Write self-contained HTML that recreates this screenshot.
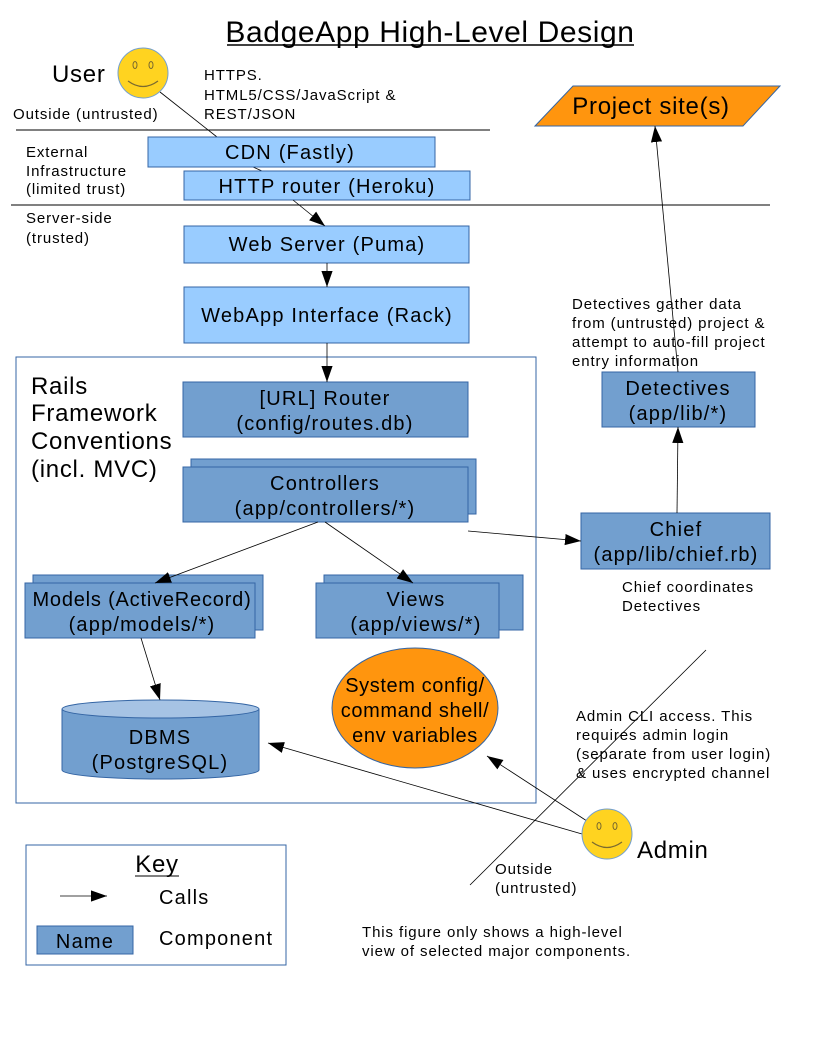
<!DOCTYPE html>
<html><head><meta charset="utf-8"><style>body{margin:0;background:#fff}svg{display:block}text{font-family:"Liberation Sans",sans-serif;fill:#000;letter-spacing:0.06em}.big{letter-spacing:0.03em}</style></head><body>
<svg width="816" height="1056" viewBox="0 0 816 1056" xmlns="http://www.w3.org/2000/svg">
<defs><marker id="b" viewBox="0 0 10 10" refX="10" refY="5" markerWidth="16" markerHeight="16" markerUnits="userSpaceOnUse" orient="auto"><path d="M0,1.5 L10,5 L0,8.5z" fill="#000"/></marker></defs>
<text x="430" y="42" font-size="30" text-anchor="middle" style="letter-spacing:0.02em">BadgeApp High-Level Design</text>
<line x1="227" y1="45" x2="634" y2="45" stroke="#000" stroke-width="1.5"/>
<text x="52" y="82" font-size="24" class="big">User</text>
<g><circle cx="143" cy="73" r="25" fill="#ffd320" stroke="#729fcf"/><ellipse cx="135" cy="65" rx="2" ry="3.5" fill="none" stroke="#7a6a30"/><ellipse cx="151" cy="65" rx="2" ry="3.5" fill="none" stroke="#7a6a30"/><path d="M128,81 Q143,92 158,81" fill="none" stroke="#7a6a30" stroke-width="1.2"/></g>
<g font-size="15"><text x="204" y="80">HTTPS.</text><text x="204" y="100">HTML5/CSS/JavaScript &amp;</text><text x="204" y="119">REST/JSON</text>
<text x="13" y="119">Outside (untrusted)</text>
<text x="26" y="157">External</text><text x="26" y="176">Infrastructure</text><text x="26" y="194">(limited trust)</text>
<text x="26" y="223">Server-side</text><text x="26" y="243">(trusted)</text></g>
<line x1="16" y1="130" x2="490" y2="130" stroke="#000"/>
<line x1="11" y1="205" x2="770" y2="205" stroke="#000"/>
<line x1="160" y1="92" x2="217" y2="137" stroke="#000" stroke-width="0.8"/>
<line x1="253" y1="167" x2="262" y2="171" stroke="#000" stroke-width="0.8"/>
<rect x="148" y="137" width="287" height="30" fill="#99ccff" stroke="#3465a4"/>
<text x="290" y="159" font-size="20" text-anchor="middle">CDN (Fastly)</text>
<rect x="184" y="171" width="286" height="29" fill="#99ccff" stroke="#3465a4"/>
<text x="327" y="193" font-size="20" text-anchor="middle">HTTP router (Heroku)</text>
<rect x="184" y="226" width="285" height="37" fill="#99ccff" stroke="#3465a4"/>
<text x="327" y="251" font-size="20" text-anchor="middle">Web Server (Puma)</text>
<rect x="184" y="287" width="285" height="56" fill="#99ccff" stroke="#3465a4"/>
<text x="327" y="322" font-size="20" text-anchor="middle">WebApp Interface (Rack)</text>
<rect x="16" y="357" width="520" height="446" fill="none" stroke="#3465a4"/>
<g font-size="24" class="big"><text x="31" y="394" class="big">Rails</text><text x="31" y="421" class="big">Framework</text><text x="31" y="449" class="big">Conventions</text><text x="31" y="477" class="big">(incl. MVC)</text></g>
<g fill="#729fcf" stroke="#3465a4">
<rect x="183" y="382" width="285" height="55"/>
<rect x="191" y="459" width="285" height="55"/><rect x="183" y="467" width="285" height="55"/>
<rect x="33" y="575" width="230" height="55"/><rect x="25" y="583" width="230" height="55"/>
<rect x="324" y="575" width="199" height="55"/><rect x="316" y="583" width="183" height="55"/>
<rect x="581" y="513" width="189" height="56"/>
<rect x="602" y="372" width="153" height="55"/>
</g>
<g font-size="20" text-anchor="middle">
<text x="325" y="405">[URL] Router</text><text x="325" y="430">(config/routes.db)</text>
<text x="325" y="490">Controllers</text><text x="325" y="515">(app/controllers/*)</text>
<text x="142" y="606" style="letter-spacing:0.04em">Models (ActiveRecord)</text><text x="142" y="631">(app/models/*)</text>
<text x="416" y="606">Views</text><text x="416" y="631">(app/views/*)</text>
<text x="676" y="536">Chief</text><text x="676" y="561">(app/lib/chief.rb)</text>
<text x="678" y="395">Detectives</text><text x="678" y="420">(app/lib/*)</text>
</g>
<path d="M62,709 L62,770 A98.5,9 0 0 0 259,770 L259,709" fill="#729fcf" stroke="#3465a4"/>
<ellipse cx="160.5" cy="709" rx="98.5" ry="9" fill="#a6c3e4" stroke="#3465a4"/>
<text x="160" y="744" font-size="20" text-anchor="middle">DBMS</text><text x="160" y="769" font-size="20" text-anchor="middle">(PostgreSQL)</text>
<ellipse cx="415" cy="708" rx="83" ry="60" fill="#ff950e" stroke="#3465a4"/>
<g font-size="20" text-anchor="middle" style="letter-spacing:0.03em"><text x="415" y="692" style="letter-spacing:0.03em">System config/</text><text x="415" y="717" style="letter-spacing:0.03em">command shell/</text><text x="415" y="742" style="letter-spacing:0.03em">env variables</text></g>
<polygon points="535,126 573,86 780,86 743,126" fill="#ff950e" stroke="#3465a4"/>
<text x="651" y="114" font-size="24" text-anchor="middle" class="big">Project site(s)</text>
<g font-size="15"><text x="572" y="309">Detectives gather data</text><text x="572" y="328">from (untrusted) project &amp;</text><text x="572" y="347">attempt to auto-fill project</text><text x="572" y="366">entry information</text>
<text x="622" y="592">Chief coordinates</text><text x="622" y="611">Detectives</text>
<text x="576" y="721">Admin CLI access. This</text><text x="576" y="740">requires admin login</text><text x="576" y="759">(separate from user login)</text><text x="576" y="778">&amp; uses encrypted channel</text>
<text x="495" y="874">Outside</text><text x="495" y="893">(untrusted)</text>
<text x="362" y="937">This figure only shows a high-level</text><text x="362" y="956">view of selected major components.</text></g>
<g stroke="#000" stroke-width="0.8" fill="none" marker-end="url(#b)">
<line x1="293" y1="200" x2="325" y2="226"/>
<line x1="327" y1="263" x2="327" y2="287"/>
<line x1="327" y1="343" x2="327" y2="382"/>
<line x1="318" y1="522" x2="155" y2="583"/>
<line x1="325" y1="522" x2="413" y2="583"/>
<line x1="468" y1="531" x2="581" y2="541"/>
<line x1="677" y1="513" x2="678" y2="427"/>
<line x1="678" y1="372" x2="655" y2="126"/>
<line x1="141" y1="638" x2="160" y2="700"/>
<line x1="582" y1="834" x2="268" y2="743"/>
<line x1="590" y1="823" x2="487" y2="756"/>
</g>
<line x1="706" y1="650" x2="470" y2="885" stroke="#000" stroke-width="0.8"/>
<g><circle cx="607" cy="834" r="25" fill="#ffd320" stroke="#729fcf"/><ellipse cx="599" cy="826" rx="2" ry="3.5" fill="none" stroke="#7a6a30"/><ellipse cx="615" cy="826" rx="2" ry="3.5" fill="none" stroke="#7a6a30"/><path d="M592,842 Q607,853 622,842" fill="none" stroke="#7a6a30" stroke-width="1.2"/></g>
<text x="637" y="858" font-size="24" class="big">Admin</text>
<rect x="26" y="845" width="260" height="120" fill="none" stroke="#3465a4"/>
<text x="157" y="872" font-size="24" text-anchor="middle" class="big">Key</text>
<line x1="135" y1="876" x2="179" y2="876" stroke="#000"/>
<line x1="60" y1="896" x2="107" y2="896" stroke="#000" stroke-width="0.8" marker-end="url(#b)"/>
<text x="159" y="904" font-size="20">Calls</text>
<rect x="37" y="926" width="96" height="28" fill="#729fcf" stroke="#3465a4"/>
<text x="85" y="948" font-size="20" text-anchor="middle">Name</text>
<text x="159" y="945" font-size="20">Component</text>
</svg>
</body></html>
